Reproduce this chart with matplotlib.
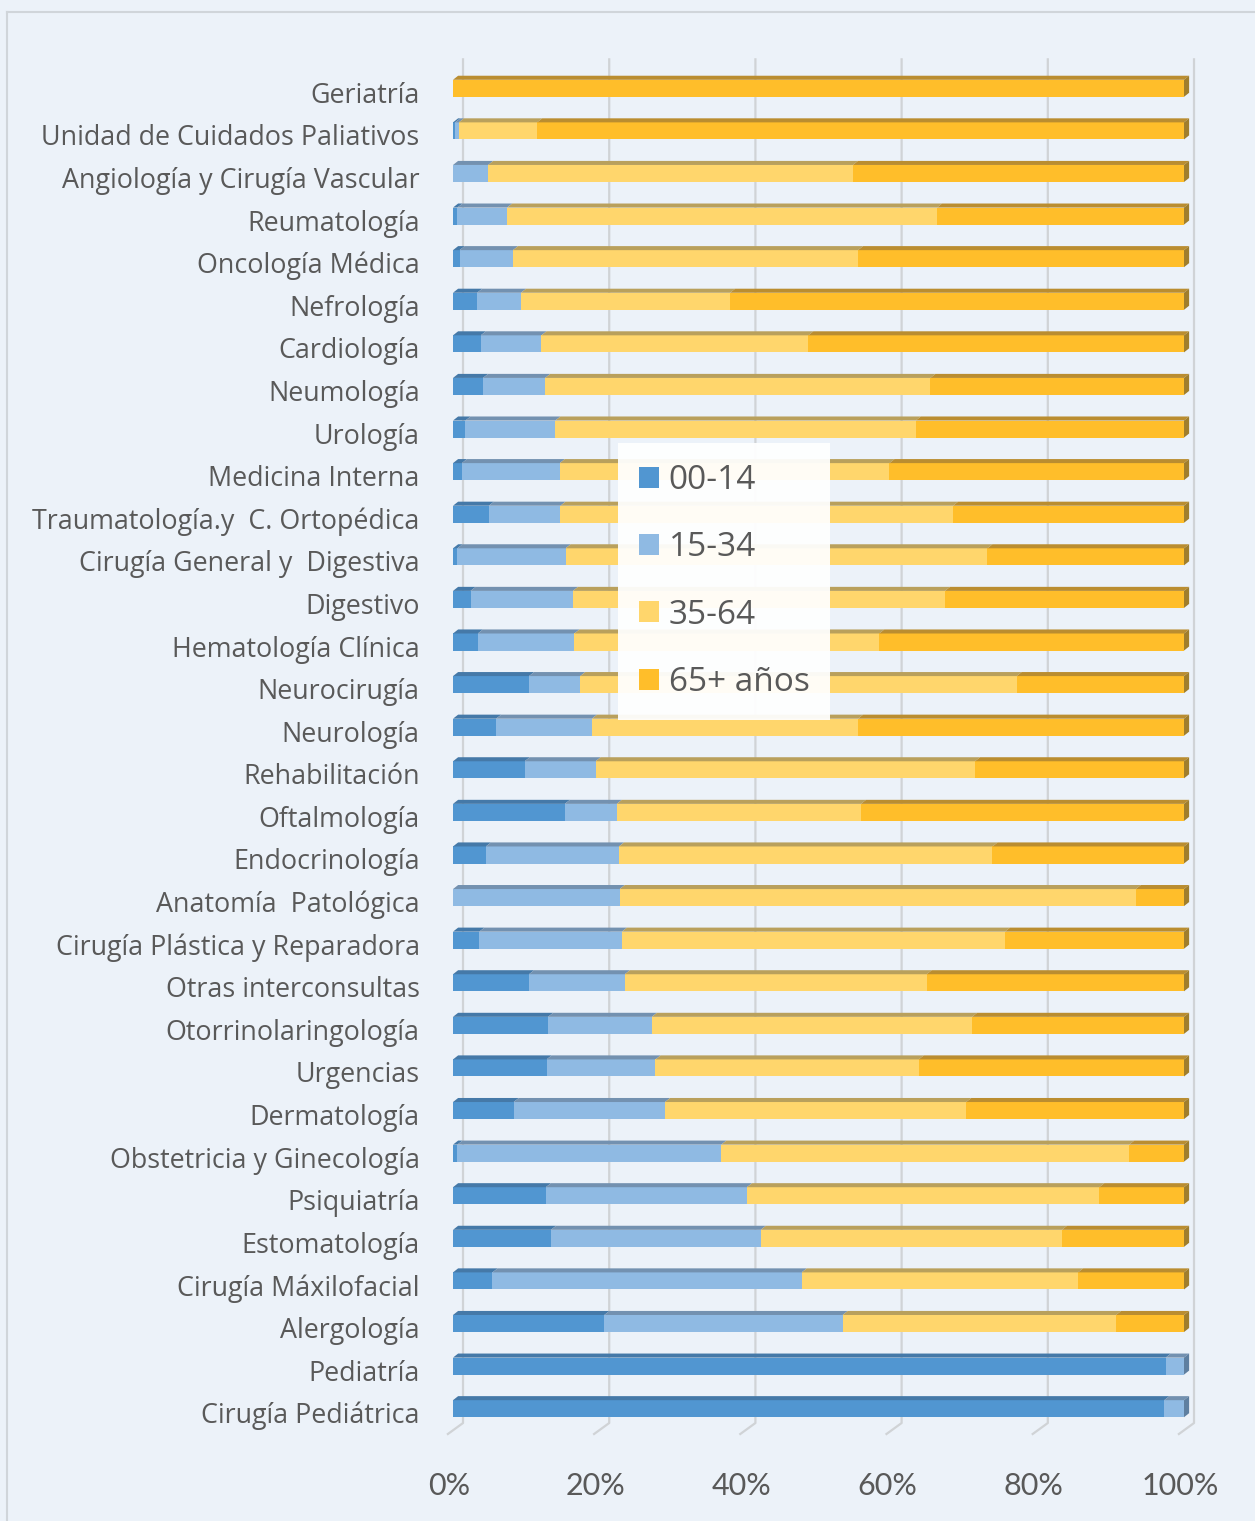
import matplotlib.pyplot as plt
import numpy as np
from matplotlib.patches import Polygon
from matplotlib.transforms import ScaledTranslation

plt.rcParams['font.family'] = ['Open Sans', 'DejaVu Sans']

# servicios, de arriba a abajo
servicios = ["Geriatría", "Unidad de Cuidados Paliativos", "Angiología y Cirugía Vascular",
             "Reumatología", "Oncología Médica", "Nefrología", "Cardiología", "Neumología",
             "Urología", "Medicina Interna", "Traumatología.y  C. Ortopédica",
             "Cirugía General y  Digestiva", "Digestivo", "Hematología Clínica", "Neurocirugía",
             "Neurología", "Rehabilitación", "Oftalmología", "Endocrinología",
             "Anatomía  Patológica", "Cirugía Plástica y Reparadora", "Otras interconsultas",
             "Otorrinolaringología", "Urgencias", "Dermatología", "Obstetricia y Ginecología",
             "Psiquiatría", "Estomatología", "Cirugía Máxilofacial", "Alergología", "Pediatría",
             "Cirugía Pediátrica"]

edad_00_14 = [0, 0.3, 0, 0.6, 0.9, 3.3, 3.8, 4.1, 1.7, 1.2, 4.9, 0.6, 2.4, 3.4, 10.4, 5.9,
              9.8, 15.3, 4.5, 0, 3.6, 10.4, 13.0, 12.8, 8.3, 0.6, 12.7, 13.4, 5.4, 20.7,
              97.5, 97.3]
edad_15_34 = [0, 0.5, 4.8, 6.8, 7.3, 6.0, 8.3, 8.5, 12.3, 13.4, 9.8, 14.8, 14.0, 13.2, 7.0,
              13.1, 9.7, 7.1, 18.2, 22.8, 19.5, 13.1, 14.2, 14.9, 20.7, 36.1, 27.5, 28.7,
              42.3, 32.6, 2.5, 2.7]
edad_35_64 = [0, 10.7, 49.9, 58.8, 47.2, 28.6, 36.5, 52.7, 49.3, 45.1, 53.7, 57.7, 50.9,
              41.7, 59.7, 36.4, 51.9, 33.4, 51.1, 70.6, 52.4, 41.3, 43.8, 36.0, 41.2, 55.8,
              48.2, 41.2, 37.8, 37.4, 0, 0]
edad_65 = [100, 88.5, 45.3, 33.8, 44.6, 62.1, 51.4, 34.7, 36.7, 40.3, 31.6, 26.9, 32.7, 41.7,
           22.9, 44.6, 28.6, 44.2, 26.2, 6.6, 24.5, 35.2, 29.0, 36.3, 29.8, 7.5, 11.6, 16.7,
           14.5, 9.3, 0, 0]

series = ["00-14", "15-34", "35-64", "65+ años"]
ticks = [0, 20, 40, 60, 80, 100]

colores = ['#5196D1', '#8FBAE3', '#FFD66C', '#FFBE2A']
colores_top = ['#4579A8', '#7391B0', '#B9A05C', '#BA8D30']
color_lado = '#A07E2C'
gris = '#595959'
fondo = '#ECF2F9'

fig = plt.figure(figsize=(12.55, 15.21), dpi=100, facecolor=fondo)
ax = fig.add_axes([453 / 1255, 1 - 1430 / 1521, 731 / 1255, 1363 / 1521])
ax.set_facecolor(fondo)

n = len(servicios)
y = np.arange(n)[::-1]
datos = np.array([edad_00_14, edad_15_34, edad_35_64, edad_65])
izq = np.zeros(n)
h = 0.4
dx = 0.7   # profundidad 3D en x
dy = 0.095  # profundidad 3D en y

# lineas de cuadricula en la pared del fondo
for t in ticks:
    ax.plot([t + 1.37, t + 1.37, t - 0.7], [31.68, -0.336, -0.594], color='#D0D3D6',
            lw=1.6, clip_on=False, zorder=0)

for k in range(4):
    ax.barh(y, datos[k], left=izq, height=h, color=colores[k], label=series[k], zorder=2)
    for i in range(n):
        if datos[k][i] <= 0:
            continue
        l = izq[i]
        r = izq[i] + datos[k][i]
        top = y[i] + h / 2
        ax.add_patch(Polygon([(l, top), (r, top), (r + dx, top + dy), (l + dx, top + dy)],
                             closed=True, color=colores_top[k], lw=0, zorder=2,
                             clip_on=False))
    izq = izq + datos[k]

# cara lateral derecha
for i in range(n):
    ultimo = max(k for k in range(4) if datos[k][i] > 0)
    c = color_lado if ultimo >= 2 else '#5E7FA0'
    ax.add_patch(Polygon([(100, y[i] - h / 2), (100, y[i] + h / 2),
                          (100 + dx, y[i] + h / 2 + dy), (100 + dx, y[i] - h / 2 + dy)],
                         closed=True, color=c, lw=0, zorder=2, clip_on=False))

ax.set_xlim(0, 100)
ax.set_ylim(-0.5, n - 0.5)
ax.set_yticks(y)
ax.set_yticklabels(servicios, fontsize=19.4, color=gris)
ax.set_xticks(ticks)
ax.set_xticklabels([f"{t}%" for t in ticks], fontsize=22, color=gris, family=['Lato'])
ax.tick_params(axis='both', length=0)
ax.tick_params(axis='y', pad=24)
ax.tick_params(axis='x', pad=30)
for lab in ax.get_yticklabels():
    lab.set_transform(lab.get_transform() + ScaledTranslation(0, -0.04, fig.dpi_scale_trans))
for lab in ax.get_xticklabels():
    lab.set_transform(lab.get_transform() + ScaledTranslation(-0.04, 0, fig.dpi_scale_trans))
for s in ax.spines.values():
    s.set_visible(False)

leg = ax.legend(loc='upper left', bbox_to_anchor=(0.2257, 0.724), fontsize=24,
                frameon=True, fancybox=False, framealpha=0.94, edgecolor='none',
                facecolor='white', labelcolor=gris, handlelength=0.6, handleheight=0.6,
                handletextpad=0.3, labelspacing=1.03, borderpad=0.62, borderaxespad=0)

# marco exterior
fig.add_artist(plt.Line2D([7 / 1255, 7 / 1255], [0, 1 - 12 / 1521], color='#D0D5DA', lw=1.5))
fig.add_artist(plt.Line2D([7 / 1255, 1], [1 - 12 / 1521, 1 - 12 / 1521], color='#D0D5DA', lw=1.5))

fig.savefig('out.png', dpi=100, facecolor=fondo)
